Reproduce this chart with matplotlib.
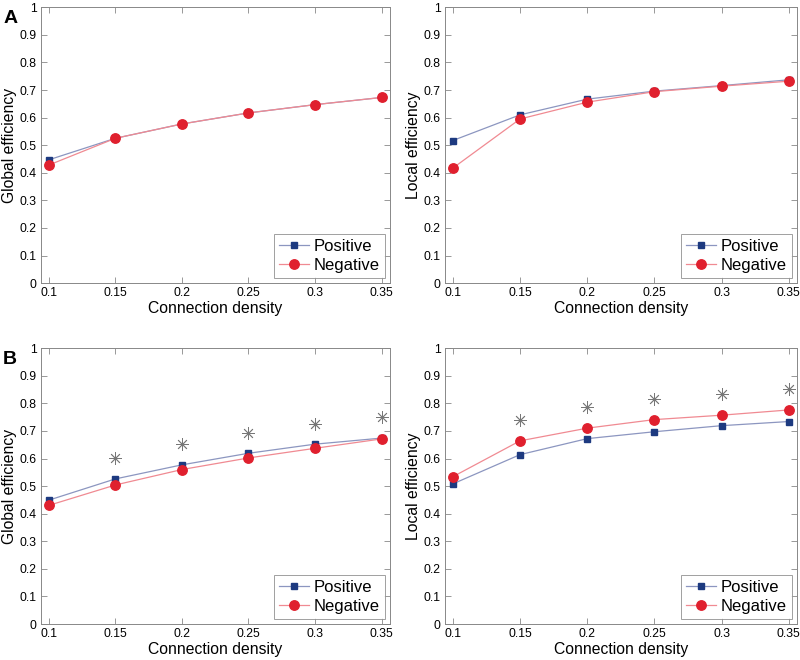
import matplotlib
matplotlib.use('Agg')
import matplotlib.pyplot as plt

plt.rcParams['font.family'] = ['Liberation Sans', 'DejaVu Sans']

density = [0.1, 0.15, 0.2, 0.25, 0.3, 0.35]
density_star = [0.15, 0.2, 0.25, 0.3, 0.35]

# panel A
a_global_pos = [0.447, 0.525, 0.577, 0.617, 0.647, 0.673]
a_global_neg = [0.428, 0.525, 0.577, 0.617, 0.647, 0.673]
a_local_pos = [0.517, 0.610, 0.667, 0.696, 0.716, 0.737]
a_local_neg = [0.417, 0.595, 0.656, 0.694, 0.714, 0.732]

# panel B
b_global_pos = [0.449, 0.526, 0.577, 0.619, 0.652, 0.674]
b_global_neg = [0.430, 0.504, 0.560, 0.602, 0.637, 0.671]
b_global_star = [0.602, 0.652, 0.693, 0.726, 0.752]
b_local_pos = [0.508, 0.614, 0.672, 0.697, 0.719, 0.734]
b_local_neg = [0.534, 0.664, 0.710, 0.741, 0.757, 0.776]
b_local_star = [0.740, 0.786, 0.816, 0.834, 0.852]

yticks = [0, 0.1, 0.2, 0.3, 0.4, 0.5, 0.6, 0.7, 0.8, 0.9, 1]
ytick_labels = ['0', '0.1', '0.2', '0.3', '0.4', '0.5', '0.6', '0.7', '0.8', '0.9', '1']
xtick_labels = ['0.1', '0.15', '0.2', '0.25', '0.3', '0.35']

fig = plt.figure(figsize=(8, 6.6), dpi=100)


def draw_panel(rect, pos, neg, ylabel, star=None):
    ax = fig.add_axes(rect)
    ax.plot(density, pos, color='#8c96c0', lw=0.9, marker='s', ms=4.5,
            mfc='#1d3a80', mec='#1d3a80', label='Positive')
    ax.plot(density, neg, color='#f08a92', lw=0.9, marker='o', ms=6.8,
            mfc='#e0202e', mec='#e0202e', label='Negative')
    if star is not None:
        ax.plot(density_star, star, ls='none', marker=(8, 2, 0), ms=9,
                mec='#777777', mew=0.6)
    ax.set_xlim(0.094, 0.356)
    ax.set_ylim(0, 1)
    ax.set_xticks(density)
    ax.set_xticklabels(xtick_labels)
    ax.set_yticks(yticks)
    ax.set_yticklabels(ytick_labels)
    ax.tick_params(direction='in', top=True, right=True, labelsize=8.8,
                   length=4, width=0.6, color='#888888', pad=3)
    for s in ax.spines.values():
        s.set_color('#888888')
        s.set_linewidth(0.7)
    ax.set_xlabel('Connection density', fontsize=11.3, labelpad=1)
    ax.set_ylabel(ylabel, fontsize=11.3, labelpad=2)
    leg = ax.legend(loc='lower right', fontsize=12, fancybox=False,
                    borderaxespad=0.3, handlelength=1.8, handletextpad=0.3,
                    labelspacing=0.25, borderpad=0.3)
    leg.get_frame().set_edgecolor('#888888')
    leg.get_frame().set_linewidth(0.7)
    return ax


draw_panel([0.051, 0.571, 0.436, 0.418], a_global_pos, a_global_neg, 'Global efficiency')
draw_panel([0.556, 0.571, 0.440, 0.418], a_local_pos, a_local_neg, 'Local efficiency')
draw_panel([0.051, 0.0545, 0.436, 0.418], b_global_pos, b_global_neg, 'Global efficiency', b_global_star)
draw_panel([0.556, 0.0545, 0.440, 0.418], b_local_pos, b_local_neg, 'Local efficiency', b_local_star)

fig.text(0.004, 0.965, 'A', fontsize=14, fontweight='bold')
fig.text(0.004, 0.448, 'B', fontsize=14, fontweight='bold')

fig.savefig('out.png', dpi=100)
